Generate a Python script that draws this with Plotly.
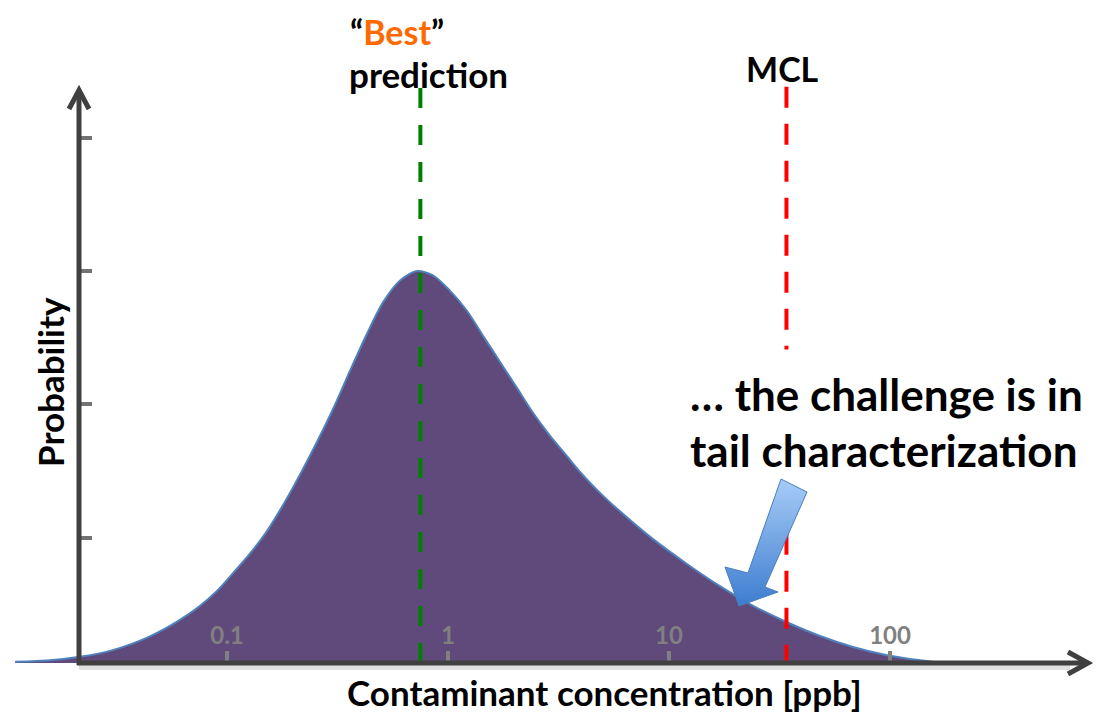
import plotly.graph_objects as go

# ---- data ----
CONC = [0.011, 0.0158, 0.0216, 0.0296, 0.0376, 0.0448, 0.0535, 0.0632, 0.0755, 0.0901,
        0.106, 0.127, 0.149, 0.168, 0.199, 0.237, 0.302, 0.360, 0.430, 0.508,
        0.607, 0.724, 0.855, 1.02, 1.22, 1.44, 1.72, 2.05, 2.42, 2.89,
        3.46, 4.08, 4.87, 6.00, 8.47, 12.1, 17.0, 24.0, 34.2, 48.2,
        68.0, 96.9, 137, 177]
PROB = [0.003, 0.007, 0.016, 0.031, 0.050, 0.068, 0.090, 0.115, 0.146, 0.184,
        0.228, 0.279, 0.330, 0.376, 0.448, 0.528, 0.648, 0.745, 0.840, 0.920,
        0.976, 1.000, 0.989, 0.950, 0.898, 0.835, 0.768, 0.702, 0.639, 0.580,
        0.527, 0.479, 0.434, 0.387, 0.316, 0.252, 0.196, 0.146, 0.104, 0.069,
        0.041, 0.020, 0.007, 0.0]

BEST = 0.75          # "best" prediction
MCL = 34             # maximum contaminant level
BEST_Y = [0.0, 1.47]
MCL_Y = [1.47, 0.80, None, 0.33, 0.0]   # hidden behind the text box in the middle

X_TICKS = [0.1, 1, 10, 100]
X_TICKTEXT = ["0.1", "1", "10", "100"]
Y_TICKS = [0.32, 0.66, 1.0, 1.34]

# call-out arrow outline (page pixels)
ARROW_X = [781, 807, 765, 778, 739, 725, 748, 781]
ARROW_Y = [479, 492, 587, 592, 606, 567, 573, 479]

# page is 1105x715, the browser body adds an 8px margin
PAGE_W, PAGE_H, OFF = 1105, 715, 8
W, H = PAGE_W - OFF, PAGE_H - OFF
FONT = "Lato"
AXIS_COL = "#404040"

# page-pixel calibration of the log axis and probability axis
X0_PX, DEC_PX = 227, 221     # pixel of 0.1 and pixels per decade
Y0_PX, UNIT_PX = 663, 392    # pixel of zero probability and of 1.0


def log_at(px):
    return -1 + (px - X0_PX) / DEC_PX


def prob_at(py):
    return (Y0_PX - py) / UNIT_PX


fig = go.Figure()

# density curve
fig.add_trace(go.Scatter(
    x=CONC, y=PROB, mode="lines",
    line=dict(color="#4f81bd", width=2, shape="spline", smoothing=0.8),
    fill="tozeroy", fillcolor="#604a7b", hoverinfo="skip"))

# best prediction / MCL lines
fig.add_trace(go.Scatter(
    x=[BEST] * len(BEST_Y), y=BEST_Y, mode="lines",
    line=dict(color="#008000", width=4, dash="20px,17px"), hoverinfo="skip"))
fig.add_trace(go.Scatter(
    x=[MCL if v is not None else None for v in MCL_Y], y=MCL_Y, mode="lines",
    line=dict(color="#ff0000", width=4, dash="21px,16px"), connectgaps=False, hoverinfo="skip"))

# call-out block arrow with gradient
fig.add_trace(go.Scatter(
    x=ARROW_X, y=ARROW_Y, xaxis="x2", yaxis="y2", mode="lines",
    line=dict(color="#4a7ebb", width=1), fill="toself",
    fillgradient=dict(type="vertical", colorscale=[[0, "#a8ccf7"], [1, "#3c7ccf"]], start=479, stop=607),
    hoverinfo="skip"))

# hand-drawn axes with chevron arrowheads (page pixels)
shapes = [
    dict(type="line", x0=79, y0=667, x1=1070, y1=667, line=dict(color="rgba(0,0,0,0.12)", width=6)),
    dict(type="line", x0=79, y0=665, x1=79, y1=91, line=dict(color=AXIS_COL, width=5)),
    dict(type="line", x0=77, y0=663, x1=1087, y1=663, line=dict(color=AXIS_COL, width=5)),
    dict(type="path", path="M 69,109 L 79,90 L 89,109", line=dict(color=AXIS_COL, width=5)),
    dict(type="path", path="M 1068,652 L 1088,663 L 1068,674", line=dict(color=AXIS_COL, width=5)),
]
for s in shapes:
    s.update(xref="x2", yref="y2", layer="above")


def note(text, x, y, size, xanchor="center", angle=0):
    return dict(text=text, x=x, y=y, xref="x2", yref="y2", showarrow=False,
                xanchor=xanchor, yanchor="middle", textangle=angle,
                font=dict(family=FONT, size=size, color="black"))


annotations = [
    note("<b>“<span style='color:#ff6a00'>Best</span>”</b>", 348, 31, 34, "left"),
    note("<b>prediction</b>", 347, 74, 35, "left"),
    note("<b>MCL</b>", 782, 68, 34),
    note("<b>… the challenge is in</b>", 688, 394, 44, "left"),
    note("<b>tail characterization</b>", 688, 450, 44, "left"),
    note("<b>Probability</b>", 50, 382, 35, angle=-90),
    note("<b>Contaminant concentration [ppb]</b>", 604, 692, 35),
]

fig.update_layout(
    width=W, height=H, margin=dict(l=0, r=0, t=0, b=0),
    template="none", paper_bgcolor="white", plot_bgcolor="white",
    showlegend=False, shapes=shapes, annotations=annotations,
    xaxis=dict(type="log", range=[log_at(OFF), log_at(PAGE_W)],
               anchor="free", position=(PAGE_H - Y0_PX) / H,
               showgrid=False, zeroline=False, showline=False,
               tickvals=X_TICKS, ticktext=X_TICKTEXT, ticks="inside", ticklen=12,
               tickwidth=4, tickcolor="#808080", ticklabelposition="inside",
               ticklabelstandoff=4,
               tickfont=dict(family=FONT, size=24, color="#808080", weight="bold"),
               fixedrange=True),
    yaxis=dict(range=[prob_at(PAGE_H), prob_at(OFF)], anchor="free", position=(79 - OFF) / W,
               showgrid=False, zeroline=False, showline=False,
               tickvals=Y_TICKS, ticks="inside", ticklen=12, tickwidth=4,
               tickcolor="#737373", showticklabels=False, fixedrange=True),
    xaxis2=dict(range=[OFF, PAGE_W], overlaying="x", anchor="y2", visible=False, fixedrange=True),
    yaxis2=dict(range=[PAGE_H, OFF], overlaying="y", anchor="x2", visible=False, fixedrange=True),
)

fig.write_html("out.html")
